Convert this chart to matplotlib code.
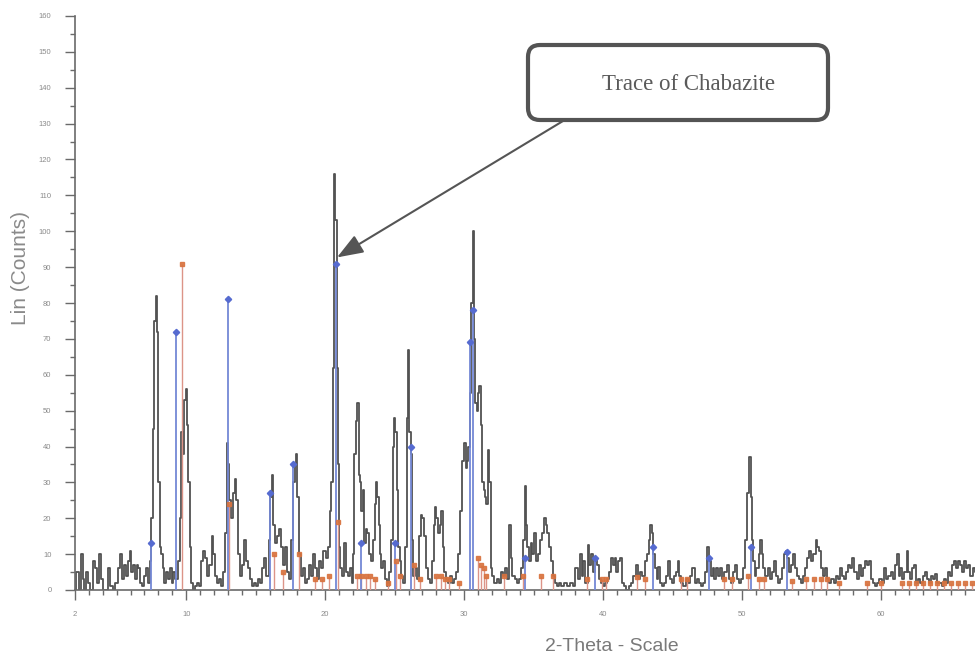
import matplotlib
matplotlib.use("Agg")
import matplotlib.pyplot as plt
import numpy as np
from matplotlib.patches import FancyBboxPatch
from matplotlib.ticker import MultipleLocator

plt.rcParams["font.family"] = ["Liberation Sans", "DejaVu Sans"]

scan = [
    (2.0, 0), (2.1, 5), (2.2, 5), (2.35, 0), (2.5, 10), (2.6, 3), (2.75, 0),
    (2.9, 5), (3.0, 2), (3.2, 0), (3.4, 8), (3.5, 6), (3.6, 2), (3.8, 10),
    (3.9, 3), (4.1, 0), (4.3, 0), (4.5, 6), (4.6, 1), (4.8, 0), (5.0, 2),
    (5.2, 6), (5.3, 10), (5.45, 3), (5.6, 7), (5.75, 4), (5.9, 8), (6.0, 11),
    (6.1, 5), (6.25, 7), (6.4, 3), (6.5, 7), (6.6, 6), (6.75, 2), (6.9, 1),
    (7.0, 4), (7.15, 6), (7.3, 2), (7.45, 8), (7.55, 20), (7.65, 45),
    (7.75, 75), (7.85, 82), (7.95, 72), (8.05, 30), (8.15, 12), (8.25, 10),
    (8.35, 6), (8.5, 2), (8.6, 5), (8.75, 3), (8.9, 6), (9.0, 2), (9.15, 5),
    (9.3, 3), (9.45, 8), (9.6, 20), (9.7, 44), (9.8, 38), (9.9, 53),
    (10.0, 56), (10.1, 46), (10.2, 30), (10.3, 12), (10.4, 2), (10.55, 0),
    (10.7, 1), (10.85, 2), (11.0, 1), (11.15, 8), (11.3, 11), (11.45, 9),
    (11.6, 4), (11.75, 7), (11.9, 15), (12.0, 10), (12.15, 4), (12.3, 2),
    (12.45, 3), (12.6, 1), (12.75, 5), (12.85, 16), (12.95, 41), (13.05, 35),
    (13.15, 25), (13.3, 20), (13.45, 27), (13.55, 31), (13.65, 25),
    (13.8, 10), (13.95, 4), (14.05, 7), (14.2, 14), (14.35, 8), (14.5, 6),
    (14.65, 3), (14.8, 1), (14.95, 2), (15.1, 1), (15.25, 3), (15.4, 2),
    (15.55, 6), (15.7, 9), (15.85, 4), (16.0, 14), (16.1, 26), (16.2, 32),
    (16.3, 18), (16.45, 13), (16.6, 15), (16.75, 17), (16.9, 12), (17.05, 7),
    (17.2, 12), (17.35, 5), (17.5, 3), (17.6, 14), (17.75, 30), (17.85, 35),
    (17.95, 38), (18.05, 26), (18.15, 10), (18.3, 4), (18.45, 6), (18.6, 2),
    (18.75, 3), (18.9, 7), (19.05, 4), (19.2, 10), (19.35, 6), (19.5, 3),
    (19.65, 8), (19.8, 6), (19.95, 11), (20.1, 9), (20.25, 12), (20.4, 22),
    (20.5, 30), (20.6, 62), (20.7, 116), (20.78, 103), (20.86, 62),
    (20.95, 35), (21.05, 12), (21.15, 6), (21.3, 4), (21.45, 13), (21.55, 5),
    (21.7, 4), (21.85, 6), (21.95, 2), (22.05, 10), (22.15, 38), (22.25, 47),
    (22.35, 52), (22.45, 32), (22.55, 30), (22.65, 22), (22.75, 28),
    (22.85, 13), (22.95, 17), (23.1, 16), (23.2, 10), (23.35, 8), (23.5, 14),
    (23.6, 24), (23.7, 30), (23.8, 26), (23.9, 18), (24.0, 10), (24.1, 6),
    (24.25, 8), (24.4, 3), (24.55, 1), (24.7, 5), (24.8, 14), (24.9, 40),
    (25.0, 48), (25.1, 44), (25.2, 28), (25.3, 12), (25.4, 8), (25.55, 4),
    (25.7, 2), (25.8, 12), (25.9, 48), (26.0, 67), (26.1, 44), (26.2, 38),
    (26.3, 14), (26.4, 4), (26.55, 6), (26.7, 3), (26.85, 15), (26.95, 21),
    (27.05, 20), (27.15, 15), (27.3, 6), (27.45, 3), (27.6, 2), (27.75, 8),
    (27.85, 18), (27.95, 23), (28.05, 20), (28.15, 16), (28.3, 18),
    (28.4, 22), (28.5, 12), (28.6, 5), (28.75, 3), (28.9, 2), (29.05, 4),
    (29.2, 2), (29.35, 3), (29.5, 5), (29.65, 10), (29.8, 22), (29.95, 36),
    (30.05, 41), (30.15, 34), (30.25, 36), (30.35, 40), (30.45, 55),
    (30.55, 80), (30.65, 100), (30.75, 70), (30.85, 52), (30.95, 50),
    (31.05, 55), (31.15, 57), (31.25, 46), (31.35, 30), (31.45, 28),
    (31.55, 26), (31.65, 24), (31.75, 39), (31.85, 30), (31.95, 6),
    (32.1, 4), (32.25, 2), (32.4, 3), (32.55, 2), (32.7, 5), (32.85, 4),
    (33.0, 6), (33.15, 3), (33.3, 18), (33.4, 9), (33.55, 4), (33.7, 3),
    (33.85, 2), (34.0, 3), (34.15, 6), (34.3, 14), (34.4, 29), (34.5, 18),
    (34.6, 12), (34.7, 8), (34.85, 13), (34.95, 10), (35.1, 16), (35.2, 8),
    (35.35, 10), (35.5, 14), (35.65, 16), (35.8, 20), (35.9, 18), (36.0, 16),
    (36.15, 12), (36.3, 8), (36.45, 4), (36.6, 2), (36.75, 1), (36.9, 2),
    (37.1, 1), (37.3, 2), (37.5, 1), (37.7, 2), (37.9, 1), (38.1, 6),
    (38.25, 3), (38.4, 10), (38.5, 4), (38.65, 8), (38.8, 2), (38.95, 12.5),
    (39.05, 7), (39.2, 10), (39.35, 5), (39.5, 9), (39.6, 7), (39.75, 3),
    (39.9, 2), (40.05, 1), (40.2, 2), (40.35, 3), (40.5, 5), (40.65, 9),
    (40.75, 7), (40.9, 9), (41.0, 5), (41.15, 8), (41.3, 9), (41.45, 2),
    (41.6, 1), (41.75, 0), (41.9, 1), (42.1, 2), (42.25, 4), (42.45, 7),
    (42.6, 3), (42.75, 5), (42.9, 4), (43.05, 8), (43.2, 10), (43.35, 14),
    (43.45, 18), (43.55, 16), (43.65, 10), (43.8, 6), (43.95, 3), (44.0, 6.5),
    (44.15, 2), (44.3, 1), (44.45, 2), (44.6, 4), (44.75, 8), (44.85, 3),
    (45.0, 2), (45.15, 4), (45.3, 5), (45.4, 8), (45.55, 4), (45.7, 2),
    (45.85, 1), (46.0, 3), (46.2, 2), (46.35, 4), (46.5, 6), (46.65, 2),
    (46.8, 3), (46.95, 2), (47.1, 1), (47.25, 2), (47.4, 5), (47.55, 12),
    (47.65, 8), (47.8, 4), (47.95, 6), (48.05, 3), (48.2, 6), (48.35, 4),
    (48.5, 6), (48.65, 3), (48.8, 5), (48.95, 7), (49.1, 3), (49.25, 2),
    (49.4, 5), (49.55, 7), (49.7, 3), (49.85, 2), (50.0, 3), (50.15, 6),
    (50.3, 14), (50.45, 27), (50.55, 37), (50.65, 26), (50.75, 14),
    (50.85, 8), (50.95, 4), (51.1, 6), (51.25, 10), (51.35, 14), (51.45, 10),
    (51.6, 6), (51.75, 4), (51.9, 6), (52.05, 3), (52.2, 5), (52.35, 8),
    (52.5, 4), (52.65, 2), (52.8, 3), (52.95, 6), (53.1, 10), (53.2, 11),
    (53.3, 9), (53.45, 5), (53.6, 7), (53.7, 10), (53.85, 6), (54.0, 4),
    (54.15, 3), (54.3, 2), (54.45, 4), (54.6, 6), (54.75, 9), (54.9, 11),
    (55.05, 8), (55.2, 10), (55.35, 14), (55.45, 12), (55.6, 11), (55.75, 6),
    (55.9, 4), (56.05, 6), (56.2, 3), (56.35, 2), (56.5, 3), (56.65, 2),
    (56.8, 4), (56.95, 3), (57.1, 6), (57.25, 4), (57.4, 3), (57.55, 5),
    (57.7, 7), (57.85, 6), (58.0, 9), (58.15, 5), (58.3, 3), (58.45, 7),
    (58.6, 4), (58.75, 6), (58.9, 8), (59.05, 7), (59.2, 8), (59.35, 3),
    (59.5, 2), (59.65, 1), (59.8, 2), (59.95, 3), (60.1, 2), (60.3, 6),
    (60.45, 3), (60.6, 4), (60.75, 5), (60.9, 3), (61.05, 7), (61.2, 10),
    (61.3, 4), (61.45, 6), (61.6, 3), (61.75, 5), (61.9, 11), (62.0, 5),
    (62.15, 3), (62.3, 6), (62.45, 7), (62.6, 2), (62.75, 3), (62.9, 2),
    (63.05, 4), (63.2, 5), (63.35, 3), (63.5, 2), (63.65, 4), (63.8, 3),
    (63.95, 4.5), (64.1, 2), (64.3, 2), (64.45, 1), (64.6, 3), (64.75, 2),
    (64.9, 5), (65.05, 4), (65.2, 7), (65.3, 8), (65.45, 6), (65.6, 8),
    (65.75, 7), (65.9, 5), (66.05, 8), (66.2, 6), (66.35, 7), (66.5, 4),
    (66.65, 6), (66.8, 5),
]

# reference pattern 1 (blue sticks, diamonds)
blue_pos = [7.5, 9.3, 13.0, 16.0, 17.7, 20.75, 22.6, 25.0, 26.2, 30.45,
            30.65, 34.4, 39.4, 43.6, 47.6, 50.6, 53.2]
blue_int = [13, 72, 81, 27, 35, 91, 13, 13, 40, 69, 78, 9, 9, 12, 9, 12, 10.5]

# reference pattern 2 (red sticks, squares)
red_pos = [9.7, 13.1, 16.3, 17.0, 18.1, 19.3, 19.8, 20.3, 20.9, 22.3, 22.6,
           22.9, 23.2, 23.6, 24.5, 25.1, 25.4, 26.4, 26.8, 28.0, 28.3, 28.6,
           28.9, 29.6, 31.0, 31.2, 31.4, 31.6, 32.9, 34.2, 35.5, 36.4, 38.8,
           39.9, 40.2, 42.4, 43.0, 45.6, 46.0, 48.7, 49.3, 50.4, 51.2, 51.6,
           53.6, 54.6, 55.2, 55.7, 56.1, 57.0, 59.0, 60.0, 61.5, 62.0, 62.5,
           63.0, 63.5, 64.0, 64.5, 65.0, 65.5, 66.0, 66.5]
red_int = [91, 24, 10, 5, 10, 3, 3, 4, 19, 4, 4, 4, 4, 3, 2, 8, 4, 7, 3, 4,
           4, 3, 3, 2, 9, 7, 6, 4, 4, 4, 4, 4, 3, 3, 3, 3.5, 3, 3, 3, 3, 3, 4,
           3, 3, 2.5, 3, 3, 3, 3, 2, 2, 2, 2, 2, 2, 2, 2, 2, 2, 2, 2, 2, 2]

x_ticks = [2, 10, 20, 30, 40, 50, 60]

theta = np.array([p[0] for p in scan])
counts = np.array([p[1] for p in scan])

fig = plt.figure(figsize=(9.75, 6.59), dpi=100)
ax = fig.add_axes([75 / 975, 69 / 659, 900 / 975, 574 / 659])

ax.plot(theta, counts, drawstyle="steps-mid", color="#525252", lw=1.3,
        zorder=2)
ax.vlines(red_pos, 0, red_int, color="#dc9488", lw=1.0, zorder=3)
ax.plot(red_pos, red_int, "s", ms=3.2, color="#d8733f", alpha=0.9, zorder=4)
ax.vlines(blue_pos, 0, blue_int, color="#7488d6", lw=1.3, zorder=3)
ax.plot(blue_pos, blue_int, "D", ms=3.2, color="#566bd0", zorder=4)

ax.set_xlim(2, 66.75)
ax.set_ylim(0, 160)

for side in ("top", "right"):
    ax.spines[side].set_visible(False)
for side in ("left", "bottom"):
    ax.spines[side].set_color("#6a6a6a")
    ax.spines[side].set_linewidth(1.2)

ax.set_xticks(x_ticks)
ax.xaxis.set_minor_locator(MultipleLocator(1))
ax.set_yticks(np.arange(0, 161, 10))
ax.yaxis.set_minor_locator(MultipleLocator(5))
ax.tick_params(which="major", direction="out", length=7, width=1,
               color="#6a6a6a", labelsize=5.5, labelcolor="#8a8a8a")
ax.tick_params(which="minor", direction="out", length=3.5, width=1,
               color="#6a6a6a")
ax.tick_params(axis="x", pad=8)
ax.tick_params(axis="y", pad=10)

ax.set_xlabel("2-Theta - Scale", fontsize=14, color="#7a7a7a")
ax.xaxis.set_label_coords((612 - 75) / 900, -(638 - 590) / 574)
ax.set_ylabel("Lin (Counts)", fontsize=15, color="#8a8a8a")
ax.yaxis.set_label_coords(-(75 - 30) / 900, (590 - 268) / 574)

# callout box
box = FancyBboxPatch((5.28, (659 - 120) / 100), 3.0, 0.75,
                     boxstyle="round,pad=0,rounding_size=0.12",
                     transform=fig.dpi_scale_trans, fc="white",
                     ec="#545454", lw=3, zorder=5)
fig.patches.append(box)
fig.text(689 / 975, 1 - 85 / 659, "Trace of Chabazite",
         family=["Liberation Serif", "DejaVu Serif"], fontsize=16.5,
         color="#5a5a5a", ha="center", va="center", zorder=6)

ax.annotate("", xy=(20.85, 92.7), xycoords="data",
            xytext=(563, 659 - 121), textcoords="figure pixels",
            arrowprops=dict(arrowstyle="-|>,head_length=0.8,head_width=0.3",
                            mutation_scale=20, color="#555555", lw=1.5,
                            shrinkA=0, shrinkB=0))

fig.savefig("out.png", dpi=100)
